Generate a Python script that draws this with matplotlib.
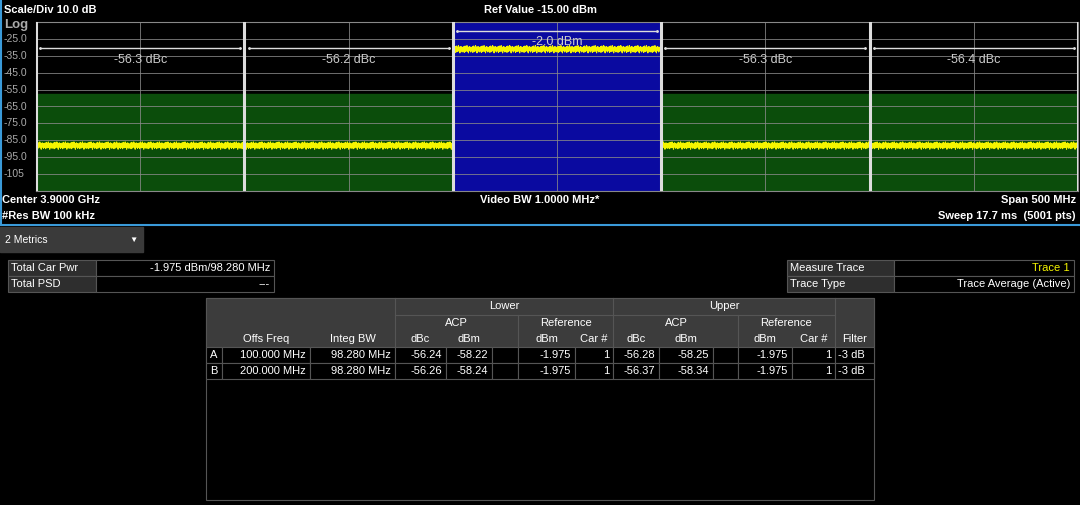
import numpy as np
import matplotlib.pyplot as plt
import matplotlib.patches as patches

plt.rcParams['font.family'] = ['Liberation Sans', 'DejaVu Sans']

# spectrum settings (GHz, dBm)
center = 3.9
span = 0.5
ref_level = -15.0
scale_div = 10.0
chan_edges = [3.65, 3.75, 3.85, 3.95, 4.05, 4.15]
chan_dbc = ["-56.3 dBc", "-56.2 dBc", "-2.0 dBm", "-56.3 dBc", "-56.4 dBc"]
band_levels = [-88.0, -88.0, -31.0, -88.0, -88.0]
mask_level = -57.5
# hand read ripple pattern of the trace (dB)
ripple = [1.3, -1.9, 0.5, 2.4, -1.0, -3.3, 1.4, 0.2, -1.5, 3.0, -0.6, 1.0, -2.6, 0.3,
          1.8, -0.3, -1.6, 0.8, 3.4, -1.1, 0.0, -2.2, 2.1, -0.5, 1.1, -3.8, 0.6, 1.6,
          -1.3, 0.3, 2.5, -1.8, -0.8, 1.3, -0.2, 1.9, -2.9, 1.0, -0.3, 0.5, -1.4]

info_rows = [["Total Car Pwr", "-1.975 dBm/98.280 MHz"], ["Total PSD", "---"]]
trace_rows = [["Measure Trace", "Trace 1"], ["Trace Type", "Trace Average (Active)"]]
col_names = ["", "Offs Freq", "Integ BW", "dBc", "dBm", "", "dBm", "Car #",
             "dBc", "dBm", "", "dBm", "Car #", "Filter"]
table_rows = [
    ["A", "100.000 MHz", "98.280 MHz", "-56.24", "-58.22", "", "-1.975", "1",
     "-56.28", "-58.25", "", "-1.975", "1", "-3 dB"],
    ["B", "200.000 MHz", "98.280 MHz", "-56.26", "-58.24", "", "-1.975", "1",
     "-56.37", "-58.34", "", "-1.975", "1", "-3 dB"],
]
col_x = [206, 222, 310, 395, 446, 492, 518, 575, 613, 659, 713, 738, 792, 835, 874]

W, H = 1080, 505
fig = plt.figure(figsize=(W / 100, H / 100), dpi=100, facecolor='black')

# overlay in pixel coordinates
ov = fig.add_axes([0, 0, 1, 1])
ov.set_xlim(0, W)
ov.set_ylim(H, 0)
ov.axis('off')
ov.add_patch(patches.Rectangle((0, 0), W, H, color='black', zorder=0))
ov.plot([0, W], [225, 225], color='#3a9ad9', lw=1.5)
ov.plot([1, 1], [0, 225], color='#3a9ad9', lw=1.5)

# spectrum axes
ax = fig.add_axes([36 / W, 1 - 191 / H, 1042 / W, 169 / H])
ax.set_facecolor('black')
x0, x1 = center - span / 2, center + span / 2
bottom = ref_level - 10 * scale_div
ax.set_xlim(x0, x1)
ax.set_ylim(bottom, ref_level)
ax.set_xticks(np.linspace(x0, x1, 11))
ax.set_yticks(np.arange(bottom, ref_level + 1, scale_div))
ax.grid(True, color='#8a8a8a', lw=0.7, alpha=0.8)
ax.tick_params(length=0, labelbottom=False, labelleft=False)
for s in ax.spines.values():
    s.set_color('#888888')

n = 5001
f = np.linspace(x0, x1, n)
levels = np.zeros(n)
for i in range(5):
    m = (f >= chan_edges[i]) & (f <= chan_edges[i + 1])
    levels[m] = band_levels[i]
    if i == 2:
        ax.axvspan(chan_edges[i], chan_edges[i + 1], color='#0a0aa0', zorder=1)
    else:
        ax.fill_between([chan_edges[i], chan_edges[i + 1]], bottom, mask_level,
                        color='#0b4d0b', zorder=1)
trace = levels + np.resize(ripple, n) * 0.6
ax.plot(f, trace, color='#f5f500', lw=0.8, zorder=3)

for e in chan_edges:
    ax.axvline(e, color='#dddddd', lw=2.2, zorder=4)
for i in range(5):
    yb = -20.5 if i == 2 else -30.5
    ax.plot([chan_edges[i] + 0.002, chan_edges[i + 1] - 0.002], [yb, yb],
            color='#dddddd', lw=1, marker='.', ms=2, zorder=4)
    yt = -27.0 if i == 2 else -37.3
    ax.text((chan_edges[i] + chan_edges[i + 1]) / 2, yt, chan_dbc[i], color='#cccccc',
            ha='center', va='center', fontsize=9, zorder=5)

for lv in np.arange(ref_level - scale_div, bottom, -scale_div):
    ov.text(4, 22 + (ref_level - lv) / (ref_level - bottom) * 169, f"{lv:.1f}" if lv > -100 else f"{lv:.0f}",
            color='#aaaaaa', fontsize=7.5, va='center', ha='left')
ov.text(4, 25, "Log", color='#aaaaaa', fontsize=9.5, fontweight='bold', va='center')

bold = dict(color='white', fontsize=8, fontweight='bold', va='center')
ov.text(4, 10, "Scale/Div 10.0 dB", **bold)
ov.text(540, 10, "Ref Value -15.00 dBm", ha='center', **bold)
ov.text(2, 200, "Center 3.9000 GHz", **bold)
ov.text(2, 216, "#Res BW 100 kHz", **bold)
ov.text(540, 200, "Video BW 1.0000 MHz*", ha='center', **bold)
ov.text(1076, 200, "Span 500 MHz", ha='right', **bold)
ov.text(1076, 216, "Sweep 17.7 ms  (5001 pts)", ha='right', **bold)

# metrics dropdown
ov.add_patch(patches.Rectangle((0, 227), 143, 25, color='#3a3a3a'))
ov.text(5, 240, "2 Metrics", color='white', fontsize=7.5, va='center')
ov.text(138, 240, "\u25bc", color='white', fontsize=6, va='center', ha='right')

txt = dict(color='white', fontsize=8, va='center')


def kv_box(x, y, w1, w2, rows, val_color):
    for k, (a, b) in enumerate(rows):
        yy = y + k * 16
        ov.add_patch(patches.Rectangle((x, yy), w1, 16, fc='#2e2e2e', ec='#555555', lw=0.8))
        ov.add_patch(patches.Rectangle((x + w1, yy), w2, 16, fc='black', ec='#555555', lw=0.8))
        ov.text(x + 3, yy + 8, a, **txt)
        ov.text(x + w1 + w2 - 4, yy + 8, b, ha='right', color=val_color[k], fontsize=8, va='center')


kv_box(8, 260, 88, 178, info_rows, ['white', 'white'])
kv_box(787, 260, 107, 180, trace_rows, ['#f5f500', 'white'])

# ACP table
hdr = dict(fc='#3c3c3c', ec='#555555', lw=0.8)
ov.add_patch(patches.Rectangle((206, 298), 668, 202, fc='black', ec='#555555', lw=0.8))
ov.add_patch(patches.Rectangle((206, 298), 668, 49, **hdr))
ov.text(504, 306, "Lower", ha='center', **txt)
ov.text(724, 306, "Upper", ha='center', **txt)
ov.text(456, 323, "ACP", ha='center', **txt)
ov.text(566, 323, "Reference", ha='center', **txt)
ov.text(676, 323, "ACP", ha='center', **txt)
ov.text(786, 323, "Reference", ha='center', **txt)
ov.plot([395, 835], [315, 315], color='#555555', lw=0.8)
for xx in [395, 613, 835]:
    ov.plot([xx, xx], [298, 347], color='#555555', lw=0.8)
for xx in [518, 738]:
    ov.plot([xx, xx], [315, 347], color='#555555', lw=0.8)
for c, name in enumerate(col_names):
    ov.text((col_x[c] + col_x[c + 1]) / 2, 339, name, ha='center', **txt)
for r, row in enumerate(table_rows):
    yy = 347 + r * 16
    for c, v in enumerate(row):
        ov.add_patch(patches.Rectangle((col_x[c], yy), col_x[c + 1] - col_x[c], 16,
                                       fc='black', ec='#555555', lw=0.8))
        if c == 0:
            ov.text(col_x[c] + 8, yy + 8, v, ha='center', **txt)
        elif c == 13:
            ov.text(col_x[c] + 3, yy + 8, v, ha='left', **txt)
        else:
            ov.text(col_x[c + 1] - 4, yy + 8, v, ha='right', **txt)

fig.savefig('out.png', dpi=100, facecolor='black')
